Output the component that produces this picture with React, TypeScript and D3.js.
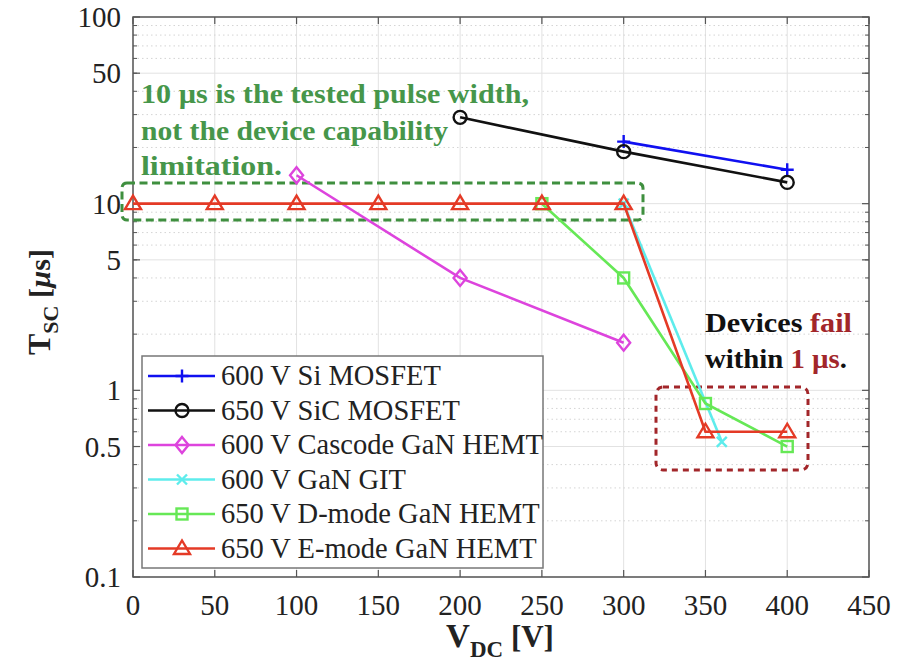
import React from 'react';
import * as d3 from 'd3';

// series data (V_DC in V, T_SC in µs)
const siX = [300, 400];
const siY = [21.5, 15.2];
const sicX = [200, 300, 400];
const sicY = [29, 19, 13];
const cascX = [100, 200, 300];
const cascY = [14.2, 4, 1.8];
const gitX = [300, 360];
const gitY = [10, 0.53];
const dX = [250, 300, 350, 400];
const dY = [10, 4, 0.85, 0.5];
const eX = [0, 50, 100, 150, 200, 250, 300, 350, 400];
const eY = [10, 10, 10, 10, 10, 10, 10, 0.6, 0.6];

const xTicks = [0, 50, 100, 150, 200, 250, 300, 350, 400, 450];
const yTicks = [0.1, 0.5, 1, 5, 10, 50, 100];
const yTickLabels = ['0.1', '0.5', '1', '5', '10', '50', '100'];

const seriesNames = [
  '600 V Si MOSFET',
  '650 V SiC MOSFET',
  '600 V Cascode GaN HEMT',
  '600 V GaN GIT',
  '650 V D-mode GaN HEMT',
  '650 V E-mode GaN HEMT',
];

const W = 914;
const H = 670;
const margin = { top: 17, right: 45, bottom: 93, left: 133 };
const tx = { fontFamily: "'Liberation Serif', 'Times New Roman', Tinos" };

const series = [
  { name: seriesNames[0], xs: siX, ys: siY, color: '#1010f0', marker: 'plus' },
  { name: seriesNames[1], xs: sicX, ys: sicY, color: '#111111', marker: 'circle' },
  { name: seriesNames[2], xs: cascX, ys: cascY, color: '#dd44dd', marker: 'diamond' },
  { name: seriesNames[3], xs: gitX, ys: gitY, color: '#5eecec', marker: 'x' },
  { name: seriesNames[4], xs: dX, ys: dY, color: '#66e856', marker: 'square' },
  { name: seriesNames[5], xs: eX, ys: eY, color: '#e43a26', marker: 'triangle' },
];

const Marker = ({ type, x, y, color }: { type: string; x: number; y: number; color: string }) => {
  const s = 6.5;
  const common = { fill: 'none', stroke: color, strokeWidth: 2.4 };
  switch (type) {
    case 'plus':
      return <path d={`M${x - s},${y}H${x + s}M${x},${y - s}V${y + s}`} {...common} />;
    case 'circle':
      return <circle cx={x} cy={y} r={s} {...common} />;
    case 'diamond':
      return <path d={`M${x},${y - s - 1.5}L${x + s},${y}L${x},${y + s + 1.5}L${x - s},${y}Z`} {...common} />;
    case 'x':
      return <path d={`M${x - 5},${y - 5}L${x + 5},${y + 5}M${x - 5},${y + 5}L${x + 5},${y - 5}`} {...common} />;
    case 'square':
      return <rect x={x - 5.5} y={y - 5.5} width={11} height={11} {...common} />;
    case 'triangle':
      return <path d={`M${x},${y - 8}L${x + 8},${y + 5.5}L${x - 8},${y + 5.5}Z`} {...common} />;
    default:
      return null;
  }
};

export default function App() {
  const x = d3.scaleLinear().domain([0, 450]).range([margin.left, W - margin.right]);
  const y = d3.scaleLog().domain([0.1, 100]).range([H - margin.bottom, margin.top]);
  const x0 = x.range()[0];
  const x1 = x.range()[1];
  const y0 = y.range()[0];
  const y1 = y.range()[1];

  const minor: number[] = [];
  [0.1, 1, 10].forEach((d) => {
    for (let k = 2; k <= 9; k++) minor.push(d * k);
  });
  const minorGrid = minor.filter((v) => yTicks.indexOf(+v.toFixed(3)) < 0);

  const line = d3
    .line<[number, number]>()
    .x((d) => x(d[0]))
    .y((d) => y(d[1]));

  const legend = { x: 142, y: 356, w: 401, h: 212, row: 34.5 };

  return (
    <svg width={W} height={H} style={{ position: 'absolute', left: 0, top: 0, background: 'white' }}>
      <rect x={0} y={0} width={W} height={H} fill="white" />
      {/* grid */}
      {xTicks.map((t) => (
        <line key={`gx${t}`} x1={x(t)} x2={x(t)} y1={y0} y2={y1} stroke="#e2e2e2" strokeWidth={1} />
      ))}
      {minorGrid.map((v, i) => (
        <line key={`gm${i}`} x1={x0} x2={x1} y1={y(v)} y2={y(v)} stroke="#d4d4d4" strokeWidth={1} strokeDasharray="1.5,3" />
      ))}
      {yTicks.map((t) => (
        <line key={`gy${t}`} x1={x0} x2={x1} y1={y(t)} y2={y(t)} stroke="#e2e2e2" strokeWidth={1} />
      ))}

      {/* axes box + ticks */}
      <rect x={x0} y={y1} width={x1 - x0} height={y0 - y1} fill="none" stroke="#555" strokeWidth={1.5} />
      {xTicks.map((t) => (
        <g key={`xt${t}`}>
          <line x1={x(t)} x2={x(t)} y1={y0} y2={y0 - 7} stroke="#555" strokeWidth={1.2} />
          <line x1={x(t)} x2={x(t)} y1={y1} y2={y1 + 7} stroke="#555" strokeWidth={1.2} />
          <text x={x(t)} y={y0 + 38} textAnchor="middle" fontSize={29} fill="#222" style={tx}>
            {t}
          </text>
        </g>
      ))}
      {yTicks.map((t, i) => (
        <g key={`yt${t}`}>
          <line x1={x0} x2={x0 + 7} y1={y(t)} y2={y(t)} stroke="#555" strokeWidth={1.2} />
          <line x1={x1} x2={x1 - 7} y1={y(t)} y2={y(t)} stroke="#555" strokeWidth={1.2} />
          <text x={x0 - 12} y={y(t) + 10} textAnchor="end" fontSize={29} fill="#222" style={tx}>
            {yTickLabels[i]}
          </text>
        </g>
      ))}
      {minor.map((v, i) => (
        <g key={`ym${i}`}>
          <line x1={x0} x2={x0 + 4} y1={y(v)} y2={y(v)} stroke="#555" strokeWidth={1} />
          <line x1={x1} x2={x1 - 4} y1={y(v)} y2={y(v)} stroke="#555" strokeWidth={1} />
        </g>
      ))}

      {/* annotation boxes */}
      <rect x={122} y={183} width={521} height={37} rx={5} fill="none" stroke="#3f8f3f" strokeWidth={3} strokeDasharray="8,4.5" />
      <rect x={656} y={387} width={152} height={83} rx={7} fill="none" stroke="#a2262a" strokeWidth={3} strokeDasharray="6,5" />

      {/* series */}
      {series.map((s) => {
        const pts = s.xs.map((v, i) => [v, s.ys[i]] as [number, number]);
        return (
          <g key={s.name}>
            <path d={line(pts) || ''} fill="none" stroke={s.color} strokeWidth={2.6} />
            {pts.map((p, i) => (
              <Marker key={i} type={s.marker} x={x(p[0])} y={y(p[1])} color={s.color} />
            ))}
          </g>
        );
      })}

      {/* annotation text */}
      <g fontSize={28} fontWeight="bold" fill="#46964a">
        <text x={141} y={103} style={tx} textLength={388} lengthAdjust="spacingAndGlyphs">
          10 µs is the tested pulse width,
        </text>
        <text x={141} y={140} style={tx} textLength={307} lengthAdjust="spacingAndGlyphs">
          not the device capability
        </text>
        <text x={141} y={175} style={tx} textLength={141} lengthAdjust="spacingAndGlyphs">
          limitation.
        </text>
      </g>
      <g fontSize={28} fontWeight="bold">
        <text x={705} y={332} style={tx} textLength={147} lengthAdjust="spacingAndGlyphs">
          <tspan fill="#111">Devices </tspan>
          <tspan fill="#a2262a">fail</tspan>
        </text>
        <text x={705} y={368} style={tx} textLength={142} lengthAdjust="spacingAndGlyphs">
          <tspan fill="#111">within </tspan>
          <tspan fill="#a2262a">1 µs</tspan>
          <tspan fill="#111">.</tspan>
        </text>
      </g>

      {/* legend */}
      <rect x={legend.x} y={legend.y} width={legend.w} height={legend.h} fill="white" stroke="#777" strokeWidth={1.5} />
      {series.map((s, i) => {
        const cy = legend.y + 20 + i * legend.row;
        return (
          <g key={`lg${i}`}>
            <line x1={148} x2={215} y1={cy} y2={cy} stroke={s.color} strokeWidth={2.6} />
            <Marker type={s.marker} x={182} y={cy} color={s.color} />
            <text x={221} y={cy + 9} fontSize={28.5} fill="#222" style={tx}>
              {s.name}
            </text>
          </g>
        );
      })}

      {/* axis labels */}
      <text x={500} y={647} textAnchor="middle" fontWeight="bold" fill="#222" style={tx}>
        <tspan fontSize={33}>V</tspan>
        <tspan fontSize={23} dy={10}>DC</tspan>
        <tspan fontSize={31} dy={-10}> [V]</tspan>
      </text>
      <text transform="translate(50,302) rotate(-90)" textAnchor="middle" fontWeight="bold" fill="#222" style={tx}>
        <tspan fontSize={32}>T</tspan>
        <tspan fontSize={22} dy={8}>SC</tspan>
        <tspan fontSize={30} dy={-8}> [</tspan>
        <tspan fontSize={30} fontStyle="italic">µ</tspan>
        <tspan fontSize={30}>s]</tspan>
      </text>
    </svg>
  );
}
